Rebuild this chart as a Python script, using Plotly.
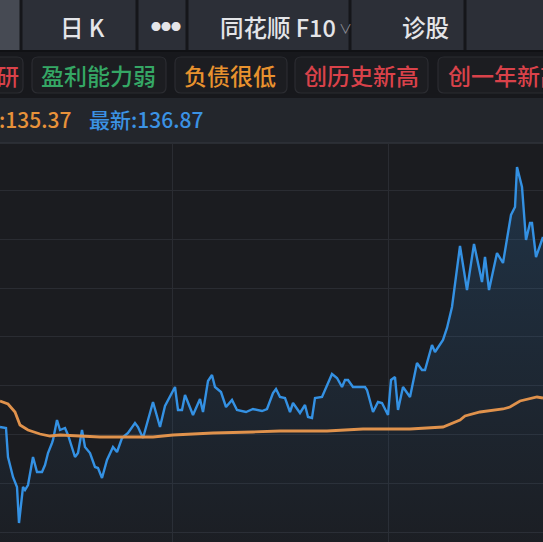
import plotly.graph_objects as go

# ---- data ----
price_day = [0, 6, 8, 13, 17, 19, 23, 25, 28, 33, 37, 42, 45, 48, 52, 53, 57, 60, 65, 68,
             75, 78, 82, 85, 90, 95, 98, 102, 107, 113, 117, 122, 128, 135, 138, 143, 153, 160, 165, 175,
             178, 182, 185, 193, 200, 203, 208, 212, 215, 221, 226, 232, 237, 246, 253, 262, 267, 273, 276, 280,
             285, 290, 293, 300, 305, 308, 312, 315, 322, 332, 337, 342, 345, 348, 353, 365, 367, 373, 378, 382,
             388, 391, 395, 398, 403, 410, 417, 422, 425, 432, 435, 443, 447, 452, 460, 467, 474, 482, 485, 489,
             497, 503, 511, 515, 517, 522, 526, 530, 532, 536, 543]
price = [110.5, 110.4, 107.5, 105.5, 104.5, 100.9, 104.5, 104.2, 104.7, 107.5, 106.0, 106.0, 106.7, 107.9, 108.9, 109.2, 111.2, 110.2, 110.4, 109.7,
         107.5, 107.9, 110.2, 108.5, 107.9, 106.5, 106.4, 105.4, 107.2, 108.5, 108.0, 109.4, 109.9, 110.9, 110.5, 109.4, 113.0, 110.5, 112.6, 114.5,
         112.2, 112.2, 113.7, 111.7, 113.3, 112.0, 115.1, 115.7, 114.5, 114.0, 112.5, 113.2, 112.2, 112.0, 112.3, 112.1, 112.3, 113.9, 114.3, 113.5,
         113.4, 112.0, 112.9, 111.9, 112.7, 111.5, 111.4, 113.4, 113.5, 115.8, 115.4, 114.5, 115.2, 115.2, 114.5, 114.5, 114.2, 112.0, 113.0, 112.9,
         111.7, 115.2, 115.5, 112.2, 114.5, 113.5, 116.9, 116.2, 116.2, 118.7, 118.0, 119.2, 120.4, 122.5, 128.6, 124.2, 128.8, 125.0, 127.5, 124.2,
         127.9, 126.9, 131.7, 132.5, 136.5, 134.5, 129.2, 130.9, 130.9, 127.5, 129.5]

ma_day = [0, 8, 15, 20, 28, 40, 50, 60, 100, 153, 173, 213, 253, 280, 327, 363, 410, 443, 460, 465,
          480, 503, 510, 520, 537, 543]
ma = [113.1, 112.8, 112.0, 110.7, 110.2, 109.8, 109.6, 109.7, 109.5, 109.5, 109.7, 109.9, 110.0, 110.1, 110.1, 110.3, 110.3, 110.5, 111.2, 111.6,
      112.0, 112.3, 112.5, 113.1, 113.5, 113.4]

tabs = ["日 K", "●●●", "同花顺 F10", "诊股"]
tags = ["机构调研", "盈利能力弱", "负债很低", "创历史新高", "创一年新高"]
tag_colors = ["#d9424a", "#35a765", "#e8922e", "#d9424a", "#d9424a"]
avg_label = "均价:135.37"
last_label = "最新:136.87"

W, H = 543, 542
CHART_TOP = 143
BG = "#1b1c20"
FONT = "Noto Sans CJK SC"


def px(x):
    return x / W


def py(y):
    return 1 - y / H


fig = go.Figure()

fig.add_trace(go.Scatter(
    x=price_day, y=price, mode="lines",
    line=dict(color="#3491e3", width=2.4),
    fill="tozeroy",
    fillgradient=dict(type="vertical",
                      colorscale=[[0, "rgba(52,145,227,0.02)"], [1, "rgba(52,145,227,0.20)"]],
                      start=99, stop=137),
    hoverinfo="skip", showlegend=False))

fig.add_trace(go.Scatter(
    x=ma_day, y=ma, mode="lines",
    line=dict(color="#e0924c", width=2.8),
    hoverinfo="skip", showlegend=False))

shapes = []
ann = []

# tab bar
shapes.append(dict(type="rect", xref="paper", yref="paper", x0=0, x1=1, y0=py(50), y1=1,
                   fillcolor="#2c2f37", line_width=0, layer="below"))
shapes.append(dict(type="rect", xref="paper", yref="paper", x0=0, x1=px(21), y0=py(50), y1=1,
                   fillcolor="#464a53", line_width=0, layer="below"))
for xd in [21, 137, 187, 350, 465]:
    shapes.append(dict(type="line", xref="paper", yref="paper", x0=px(xd), x1=px(xd), y0=py(50), y1=1,
                       line=dict(color="#15161a", width=3), layer="below"))
tab_pos = [82, 166, 278, 425]
for t, xc in zip(tabs, tab_pos):
    ann.append(dict(text=t, x=px(xc), y=py(27), xref="paper", yref="paper", showarrow=False,
                    xanchor="center", yanchor="middle",
                    font=dict(family=FONT, size=23.5 if t != "●●●" else 10, color="#e4e5e8", weight=500)))
ann.append(dict(text="∨", x=px(345), y=py(28), xref="paper", yref="paper", showarrow=False,
                xanchor="center", yanchor="middle", font=dict(family=FONT, size=13, color="#8e9097")))

# tag row
shapes.append(dict(type="rect", xref="paper", yref="paper", x0=0, x1=1, y0=py(98), y1=py(50),
                   fillcolor="#17181c", line_width=0, layer="below"))
shapes.append(dict(type="line", xref="paper", yref="paper", x0=0, x1=1, y0=py(51), y1=py(51),
                   line=dict(color="#101114", width=2), layer="below"))
boxes = [(-60, 23), (32, 166), (175, 287), (295, 428), (438, 600)]
tag_centers = [None, 98, 230, 361, None]
for i, (b0, b1) in enumerate(boxes):
    r = 6
    x0, x1, y0, y1 = px(b0), px(b1), py(93), py(57)
    rx, ry = r / W, r / H
    path = (f"M {x0+rx},{y1} L {x1-rx},{y1} Q {x1},{y1} {x1},{y1-ry} L {x1},{y0+ry} "
            f"Q {x1},{y0} {x1-rx},{y0} L {x0+rx},{y0} Q {x0},{y0} {x0},{y0+ry} "
            f"L {x0},{y1-ry} Q {x0},{y1} {x0+rx},{y1} Z")
    shapes.append(dict(type="path", xref="paper", yref="paper", path=path,
                       fillcolor="#1c1d21", line=dict(color="#2b2c31", width=1.2), layer="below"))
    font = dict(family=FONT, size=23, color=tag_colors[i], weight=500)
    if i == 0:
        ann.append(dict(text=tags[i], x=px(21), y=py(75), xref="paper", yref="paper", showarrow=False,
                        xanchor="right", yanchor="middle", font=font))
    elif i == 4:
        ann.append(dict(text=tags[i], x=px(446), y=py(75), xref="paper", yref="paper", showarrow=False,
                        xanchor="left", yanchor="middle", font=font))
    else:
        ann.append(dict(text=tags[i], x=px(tag_centers[i]), y=py(75), xref="paper", yref="paper",
                        showarrow=False, xanchor="center", yanchor="middle", font=font))

# price row
shapes.append(dict(type="rect", xref="paper", yref="paper", x0=0, x1=1, y0=py(CHART_TOP), y1=py(98),
                   fillcolor="#23262c", line_width=0, layer="below"))
shapes.append(dict(type="line", xref="paper", yref="paper", x0=0, x1=1, y0=py(CHART_TOP), y1=py(CHART_TOP),
                   line=dict(color="#30333a", width=1.5), layer="below"))
ann.append(dict(text=avg_label, x=px(73), y=py(119), xref="paper", yref="paper", showarrow=False,
                xanchor="right", yanchor="middle", font=dict(family=FONT, size=21, color="#e8923a", weight=500)))
ann.append(dict(text=last_label, x=px(87), y=py(119), xref="paper", yref="paper", showarrow=False,
                xanchor="left", yanchor="middle", font=dict(family=FONT, size=21, color="#3b92e4", weight=500)))

fig.update_layout(
    width=W, height=H,
    margin=dict(l=0, r=0, t=0, b=0),
    paper_bgcolor=BG, plot_bgcolor=BG,
    shapes=shapes, annotations=ann,
    showlegend=False,
    xaxis=dict(range=[0, 543], domain=[0, 1], showticklabels=False, ticks="",
               tickvals=[172, 388], showgrid=True, gridcolor="#2a2c32", gridwidth=1,
               zeroline=False, showline=False, fixedrange=True),
    yaxis=dict(range=[99.0, 138.9], domain=[0, 1 - CHART_TOP / H], showticklabels=False, ticks="",
               tick0=100, dtick=4.88, showgrid=True, gridcolor="#2a2c32", gridwidth=1,
               zeroline=False, showline=False, fixedrange=True),
)

fig.write_html("out.html", config={"displayModeBar": False},
               post_script="document.body.style.margin='0';document.body.style.overflow='hidden';")
